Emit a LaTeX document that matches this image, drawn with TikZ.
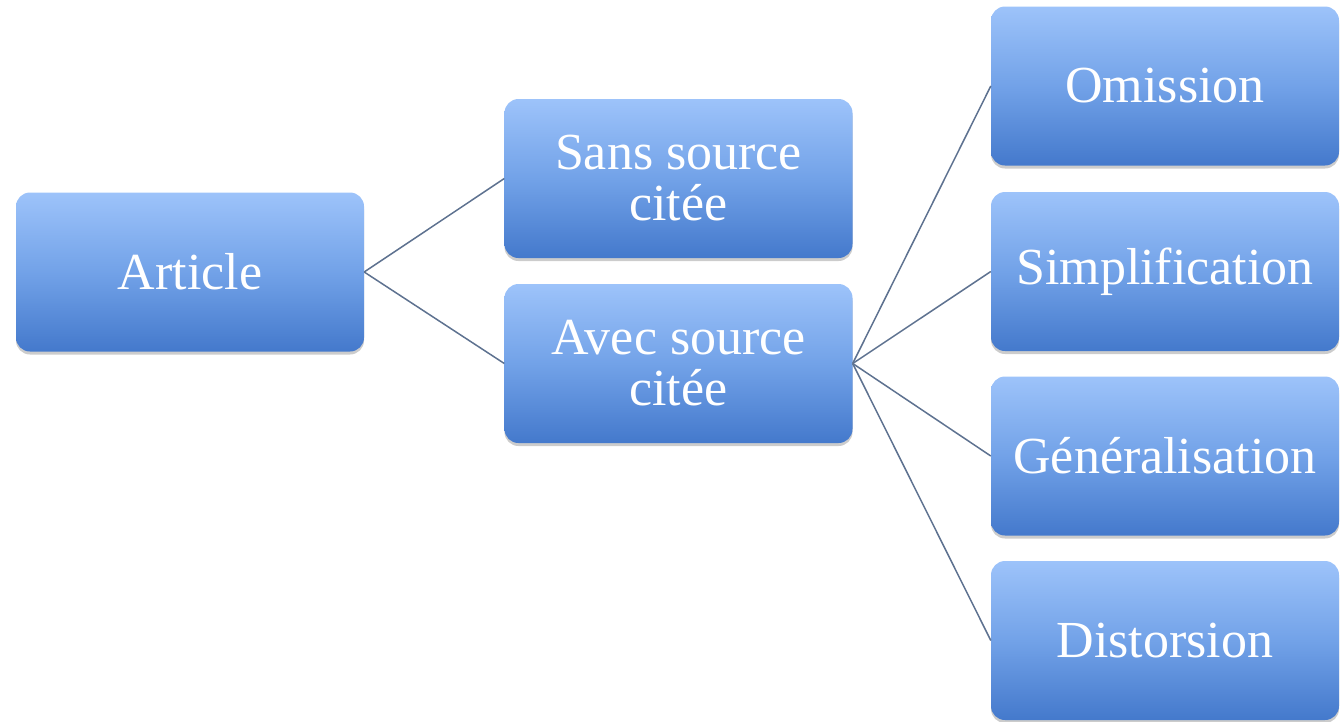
\documentclass[tikz,border=0pt]{standalone}
\usepackage{fontspec}
\setmainfont{Liberation Serif}
\usetikzlibrary{shadows}
\definecolor{boxtop}{HTML}{9DC3FA}
\definecolor{boxmid}{HTML}{72A2E8}
\definecolor{boxbot}{HTML}{4479CC}
\definecolor{linkc}{HTML}{5E7290}
\tikzset{
  box/.style={rectangle, rounded corners=14pt, minimum width=348pt, minimum height=159pt,
    inner sep=0pt, top color=boxtop, bottom color=boxbot, middle color=boxmid,
    text=white, align=center, font=\fontsize{52}{51}\selectfont,
    drop shadow={shadow xshift=0pt, shadow yshift=-3pt, opacity=0.2, fill=black}},
  link/.style={draw=linkc, line width=1.5pt}
}
\begin{document}
\begin{tikzpicture}[x=1pt,y=-1pt]
\useasboundingbox (0,0) rectangle (1341,721);
\node[box] (art) at (190,272) {Article};
\node[box] (sans) at (678.5,178.5) {Sans source\\citée};
\node[box] (avec) at (678.5,363.5) {Avec source\\citée};
\node[box] (om) at (1165,86) {Omission};
\node[box] (si) at (1165,271.5) {Simplification};
\node[box] (ge) at (1165,456) {Généralisation};
\node[box] (di) at (1165,640.5) {Distorsion};
\draw[link] (art.east) -- (sans.west);
\draw[link] (art.east) -- (avec.west);
\draw[link] (avec.east) -- (om.west);
\draw[link] (avec.east) -- (si.west);
\draw[link] (avec.east) -- (ge.west);
\draw[link] (avec.east) -- (di.west);
\end{tikzpicture}
\end{document}
